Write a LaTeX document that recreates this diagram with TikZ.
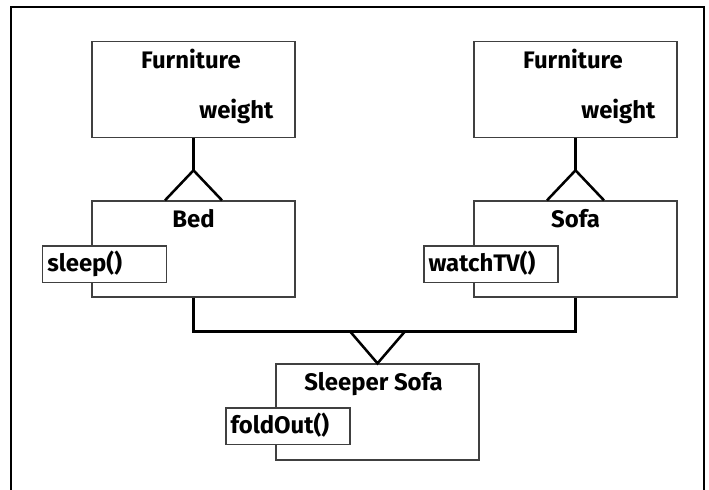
\documentclass[tikz,border=0pt]{standalone}
\usepackage{fontspec}
\setmainfont{Fira Sans}
\usetikzlibrary{calc}
\tikzset{
  frame/.style={draw=black,line width=1.4pt},
  cls/.style={draw=black!75,line width=.9pt,fill=white,minimum width=5.075cm,minimum height=2.4cm,inner sep=0pt},
  title/.style={anchor=base,inner sep=0pt,font=\fontsize{17}{20}\selectfont\bfseries},
  attr/.style={anchor=base east,inner sep=0pt,font=\fontsize{17}{20}\selectfont\bfseries},
  method/.style={draw=black!75,line width=.9pt,fill=white,anchor=north west,align=left,
    inner xsep=.115cm,inner ysep=0pt,text height=.64cm,text depth=.275cm,
    font=\fontsize{17}{20}\selectfont\bfseries},
  link/.style={draw=black,line width=1.8pt}
}
\begin{document}
\begin{tikzpicture}[x=0.025cm,y=-0.025cm]
  \clip (0,0) rectangle (709,490);
  \draw[frame] (10.7,7.3) rectangle (704.3,530);

  % classes
  \node[cls] (furnA) at (193.5,89.7) {};
  \node[cls] (furnB) at (575.5,89.7) {};
  \node[cls] (bed) at (193.5,249) {};
  \node[cls] (sofa) at (575.5,249) {};
  \node[cls] (sleeper) at (377.5,412) {};

  \node[title] (tA) at ($(furnA.north)+(-2.5,27)$) {Furniture};
  \node[attr] (wA) at ($(furnA.north east)+(-22,77.3)$) {weight};
  \node[title] (tB) at ($(furnB.north)+(-2.5,27)$) {Furniture};
  \node[attr] (wB) at ($(furnB.north east)+(-22,77.3)$) {weight};
  \node[title] (tBed) at ($(bed.north)+(0,27)$) {Bed};
  \node[title] (tSofa) at ($(sofa.north)+(0,27)$) {Sofa};
  \node[title] (tSleeper) at ($(sleeper.north)+(-4,27)$) {Sleeper Sofa};

  % operations
  \node[method,text width=2.87cm] (sleep) at ($(bed.north west)+(-49.3,45)$) {sleep()};
  \node[method,text width=3.12cm] (watch) at ($(sofa.north west)+(-50,45)$) {watchTV()};
  \node[method,text width=2.87cm] (fold) at ($(sleeper.north west)+(-50,44)$) {foldOut()};

  % inheritance
  \coordinate (tipA) at ($(furnA.south)+(0,32)$);
  \coordinate (tipB) at ($(furnB.south)+(0,32)$);
  \coordinate (joint) at ($(sleeper.north)+(0,-32)$);
  \draw[link] (furnA.south) -- (tipA);
  \draw[link] ($(bed.north)+(-28.5,0)$) -- (tipA) -- ($(bed.north)+(28.5,0)$);
  \draw[link] (furnB.south) -- (tipB);
  \draw[link] ($(sofa.north)+(-28.5,0)$) -- (tipB) -- ($(sofa.north)+(28.5,0)$);
  \draw[link] (bed.south) |- (joint) -| (sofa.south);
  \draw[link] ($(joint)+(-27.5,0)$) -- (sleeper.north) -- ($(joint)+(27.5,0)$);
\end{tikzpicture}
\end{document}
